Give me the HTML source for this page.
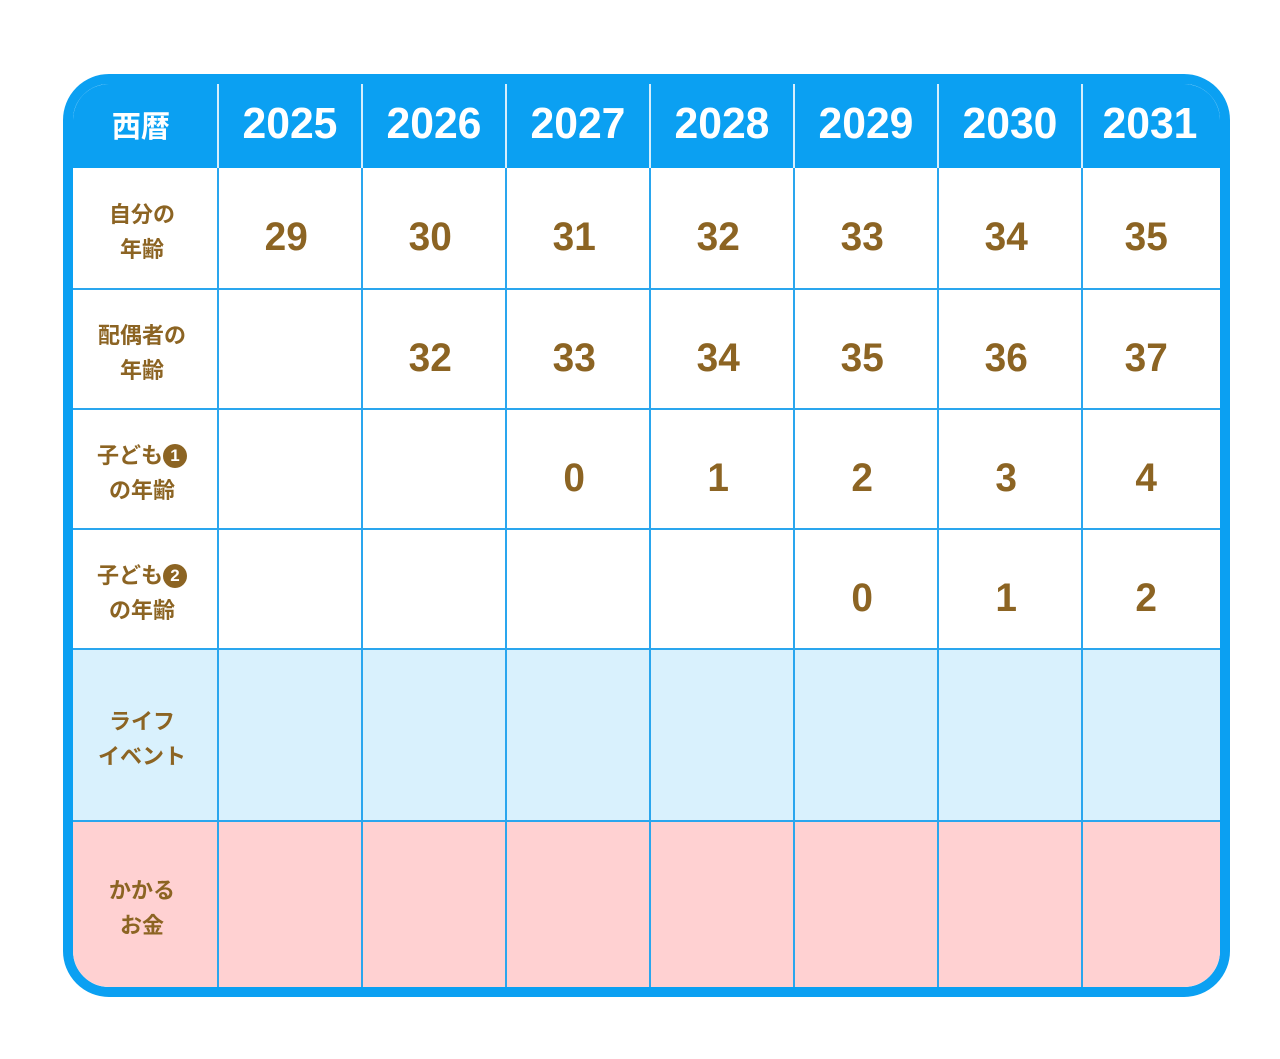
<!DOCTYPE html>
<html><head><meta charset="utf-8"><style>
body{margin:0;width:1280px;height:1059px;background:#fff;position:relative;overflow:hidden;font-family:"Liberation Sans","Noto Sans CJK JP",sans-serif}
.frame{position:absolute;left:63px;top:74px;width:1147px;height:903px;border:10px solid #0ba0f2;border-radius:46px;overflow:hidden;background:#fff}
.c{position:absolute;display:flex;align-items:center;justify-content:center;text-align:center;box-sizing:border-box}
.n{color:#8c6423;font-weight:bold;font-size:40px}
.n span,.h span{display:inline-block;transform:scaleX(0.97)}
.l{color:#8c6423;font-weight:bold;font-size:22px;line-height:35px}
.h{color:#fff;font-weight:bold;font-size:44px}
.vl{position:absolute;width:2px;background:#2aa6ee}
.hl{position:absolute;height:2px;background:#2aa6ee;left:0;right:0}
.b{display:inline-block;width:24px;height:24px;border-radius:50%;background:#8c6423;color:#fff;font-size:17px;line-height:24px;vertical-align:2px}
</style></head><body>
<div class="frame">
<div style="position:absolute;left:0;top:0;right:0;height:84px;background:#0ba0f2"></div>
<div style="position:absolute;left:0;top:565px;right:0;height:172px;background:#d9f1fd"></div>
<div style="position:absolute;left:0;top:737px;right:0;height:170px;background:#ffd1d2"></div>
<div class="vl" style="left:144px;top:84px;bottom:0"></div>
<div class="vl" style="left:288px;top:84px;bottom:0"></div>
<div class="vl" style="left:432px;top:84px;bottom:0"></div>
<div class="vl" style="left:576px;top:84px;bottom:0"></div>
<div class="vl" style="left:720px;top:84px;bottom:0"></div>
<div class="vl" style="left:864px;top:84px;bottom:0"></div>
<div class="vl" style="left:1008px;top:84px;bottom:0"></div>
<div class="hl" style="top:204px"></div>
<div class="hl" style="top:324px"></div>
<div class="hl" style="top:444px"></div>
<div class="hl" style="top:564px"></div>
<div class="hl" style="top:736px"></div>
</div>
<div id="g"></div>
<script>
var cols=[74,220,364,508,652,796,940,1084,1220];
var rows=[84,168,290,410,530,650,822,987];
var H=["西暦","2025","2026","2027","2028","2029","2030","2031"];
var L=["自分の<br>年齢","配偶者の<br>年齢","子ども<span class='b'>1</span><br>の年齢","子ども<span class='b'>2</span><br>の年齢","ライフ<br>イベント","かかる<br>お金"];
var D=[["29","30","31","32","33","34","35"],["","32","33","34","35","36","37"],["","","0","1","2","3","4"],["","","","","0","1","2"],[],[]];
var s="";
for(var i=1;i<8;i++){s+="<div style='position:absolute;left:"+(cols[i]-3)+"px;top:84px;width:2px;height:84px;background:#d6eefc'></div>";}
for(var i=0;i<8;i++){s+="<div class='c h' style='left:"+(cols[i]-(i==0?6:2))+"px;top:"+(rows[0]-2)+"px;width:"+(cols[i+1]-cols[i])+"px;height:84px;"+(i==0?"font-size:30px;":"")+"'><span>"+H[i]+"</span></div>";}
for(var r=0;r<6;r++){var t=rows[r+1],h=rows[r+2]-t;
s+="<div class='c l' style='left:69px;top:"+(t+3)+"px;width:146px;height:"+h+"px'><div>"+L[r]+"</div></div>";
for(var j=0;j<7;j++){var v=D[r][j]||"";if(v)s+="<div class='c n' style='left:"+(cols[j+1]-6)+"px;top:"+(t+10)+"px;width:"+(cols[j+2]-cols[j+1])+"px;height:"+(h-4)+"px'><span>"+v+"</span></div>";}}
document.getElementById("g").innerHTML=s;
</script>
</body></html>
